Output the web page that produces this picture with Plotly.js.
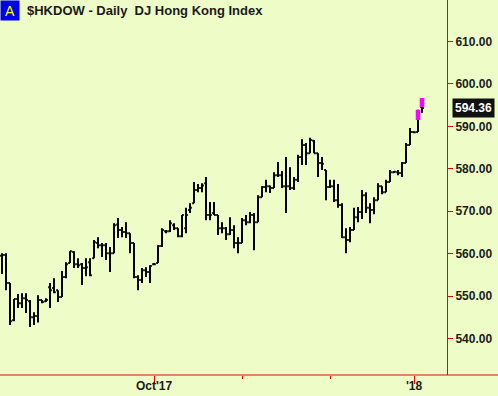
<!DOCTYPE html>
<html>
<head>
<meta charset="utf-8">
<script src="https://cdn.plot.ly/plotly-3.0.1.min.js"></script>
<style>
html,body{margin:0;padding:0;background:#EEFDC8;}
#chart{width:498px;height:396px;}
</style>
</head>
<body>
<div id="chart"></div>
<script>
// Daily bars, DJ Hong Kong Index (trading-day index on x)
var openP = [559.5,559.7,553.1,544.3,549.3,548.3,549.5,548.8,545.0,545.3,
  549.1,548.8,552.1,551.9,551.4,549.8,554.5,557.8,560.4,557.5,
  557.5,556.6,558.0,558.9,562.5,562.0,562.0,560.1,560.1,566.9,
  565.6,565.1,564.8,562.5,554.5,553.8,556.1,555.7,557.5,557.8,
  561.8,565.3,565.3,566.7,566.0,564.1,566.0,570.3,571.9,575.0,
  575.5,576.6,569.1,569.6,569.1,566.0,566.0,564.6,565.6,562.5,
  562.5,567.9,567.4,569.1,567.4,573.3,575.7,575.9,575.5,578.5,
  578.5,575.9,575.9,575.5,577.4,582.8,585.6,583.7,586.6,583.7,
  581.4,579.7,575.7,575.9,572.6,571.5,563.9,563.2,565.6,568.6,
  569.8,573.8,570.8,570.3,572.6,575.9,574.5,576.9,579.2,579.2,
  579.0,581.4,585.6,588.7,588.7,594.6];
var highP = [560.1,560.1,553.1,549.3,550.5,550.7,550.7,549.1,546.2,550.2,
  549.1,549.5,553.1,554.2,551.4,555.9,558.0,560.6,560.6,558.9,
  557.8,558.9,558.9,563.2,563.9,562.5,562.5,561.6,567.2,568.4,
  566.3,567.4,564.8,562.5,554.9,556.6,556.8,557.3,557.8,562.0,
  566.0,565.6,567.9,567.2,566.0,569.1,570.8,571.9,576.9,576.4,
  576.6,578.1,572.2,572.2,569.1,567.4,566.3,568.6,566.7,563.9,
  568.4,569.1,569.8,569.6,573.8,575.9,577.4,576.1,579.2,581.6,
  579.5,582.8,580.4,578.1,583.3,587.0,586.1,587.3,586.8,583.7,
  582.8,579.7,577.4,577.4,576.4,571.9,566.0,566.3,570.8,571.0,
  575.0,574.5,571.9,573.3,576.6,575.9,577.4,579.7,579.5,579.7,
  581.6,586.1,589.6,588.8,593.9,596.7];
var lowP = [555.2,551.4,543.2,544.1,547.2,547.2,546.0,542.7,543.2,543.8,
  548.3,548.6,547.2,550.7,548.6,549.8,554.2,557.8,556.6,556.6,
  552.6,554.7,554.7,558.9,561.3,559.2,558.5,555.7,560.1,563.7,
  563.9,563.7,560.1,554.2,551.4,553.1,554.5,553.1,557.3,557.8,
  561.6,564.8,565.1,565.6,563.9,563.9,564.8,569.6,571.9,574.5,
  574.5,567.9,567.9,569.1,564.4,564.8,563.2,564.4,561.3,560.1,
  562.5,566.7,567.2,560.8,567.4,573.3,574.5,574.3,575.5,578.1,
  575.5,569.6,575.0,575.0,576.9,580.9,580.9,583.7,583.7,578.1,
  579.7,572.6,575.5,572.2,570.8,563.7,560.1,562.7,565.6,567.4,
  568.2,569.6,567.2,569.3,572.6,574.0,574.5,576.9,579.0,578.5,
  578.1,581.4,585.6,588.4,588.7,593.2];
var closeP = [559.7,553.1,544.1,549.3,548.3,549.5,549.1,545.0,545.3,549.1,
  548.6,549.1,551.4,550.9,549.8,554.5,557.5,560.6,557.5,557.3,
  556.6,556.8,554.9,562.7,562.0,562.0,560.1,560.1,566.7,565.6,
  565.1,564.8,562.5,554.5,553.8,556.1,555.7,557.1,557.5,561.8,
  565.6,565.3,567.2,566.0,564.1,569.1,569.1,570.8,575.0,575.5,
  576.1,569.1,569.1,569.1,566.0,566.0,564.6,565.6,562.5,562.5,
  567.9,567.4,569.1,567.4,573.3,575.7,575.9,575.5,578.5,578.5,
  575.9,575.9,575.5,577.4,582.8,585.6,583.7,586.8,583.7,581.4,
  581.2,575.7,575.9,572.6,571.5,563.9,563.2,565.6,568.6,569.8,
  573.8,570.8,570.3,572.6,575.9,574.5,576.9,579.2,579.3,579.0,
  581.4,585.6,588.7,588.6,593.4,594.36];
// highlighted (magenta) portions of the last two bars
var hiliteIdx = [104, 105];
var hiliteLow = [591.5, 594.6];
var hiliteHigh = [593.9, 596.7];
var lastPrice = 594.36;
// axis ticks
var xMajorVals = [38, 103];
var xMajorText = ["Oct'17", "'18"];
var xMinorVals = [60, 82];
var yTickVals = [540, 550, 560, 570, 580, 590, 600, 610];

var xs = openP.map(function(_, i){ return i; });
var hx = [], hy = [];
hiliteIdx.forEach(function(ix, k){ hx.push(ix, ix, null); hy.push(hiliteLow[k], hiliteHigh[k], null); });

var bg = '#EEFDC8';
var red = '#ee0000';
var txt = '#1a1a1a';
var fnt = {family: 'Arial, Liberation Sans, sans-serif', size: 12, color: txt, weight: 'bold'};

var data = [
  {type: 'ohlc', x: xs, open: openP, high: highP, low: lowP, close: closeP,
   increasing: {line: {color: '#000', width: 2}}, decreasing: {line: {color: '#000', width: 2}},
   tickwidth: 0.45, showlegend: false, hoverinfo: 'skip'},
  {type: 'scatter', mode: 'lines', x: hx, y: hy, line: {color: '#ff00ff', width: 4.5},
   showlegend: false, hoverinfo: 'skip', connectgaps: false}
];

var layout = {
  width: 498, height: 396,
  margin: {l: 0, r: 51, t: 0, b: 21, pad: 0},
  paper_bgcolor: bg, plot_bgcolor: bg,
  showlegend: false,
  xaxis: {range: [-0.5, 111.25], tickmode: 'array', tickvals: xMajorVals, ticktext: xMajorText,
    ticks: 'outside', ticklen: 8, tickwidth: 1, tickcolor: red, showline: false,
    ticklabelstandoff: -8,
    showgrid: false, zeroline: false, rangeslider: {visible: false}, tickfont: fnt,
    minor: {tickmode: 'array', tickvals: xMinorVals, ticks: 'outside', ticklen: 3, tickcolor: red, tickwidth: 1, showgrid: false},
    fixedrange: true},
  yaxis: {side: 'right', range: [531.4, 619.8], tickmode: 'array', tickvals: yTickVals,
    tickformat: '.2f', ticks: 'outside', ticklen: 5, tickwidth: 1, tickcolor: red,
    showline: true, linecolor: red, linewidth: 1, mirror: false,
    showgrid: false, zeroline: false, tickfont: fnt, fixedrange: true},
  shapes: [
    {type: 'line', xref: 'paper', yref: 'paper', x0: 0, x1: 498/447, y0: 0, y1: 0,
     line: {color: red, width: 1}}
  ],
  annotations: [
    {xref: 'paper', yref: 'paper', x: 0, y: 1, xanchor: 'left', yanchor: 'top',
     text: 'A', showarrow: false, bgcolor: '#0000ee', borderpad: 1,
     font: {family: 'Arial, Liberation Sans, sans-serif', size: 14, color: '#ffff00'}, width: 16, height: 17},
    {xref: 'paper', yref: 'paper', x: 25/447, y: 1, xanchor: 'left', yanchor: 'top', yshift: -1,
     text: '$HKDOW - Daily &nbsp;DJ Hong Kong Index', showarrow: false,
     font: {family: 'Arial, Liberation Sans, sans-serif', size: 13, color: txt, weight: 'bold'}},
    {xref: 'paper', yref: 'y', x: 1, y: lastPrice, xanchor: 'left', yanchor: 'middle', xshift: 5,
     text: lastPrice.toFixed(2), showarrow: false, bgcolor: '#111111', borderpad: 2,
     font: {family: 'Arial, Liberation Sans, sans-serif', size: 12, color: '#ffffff', weight: 'bold'}}
  ]
};

Plotly.newPlot('chart', data, layout, {displayModeBar: false, staticPlot: true});
</script>
</body>
</html>
